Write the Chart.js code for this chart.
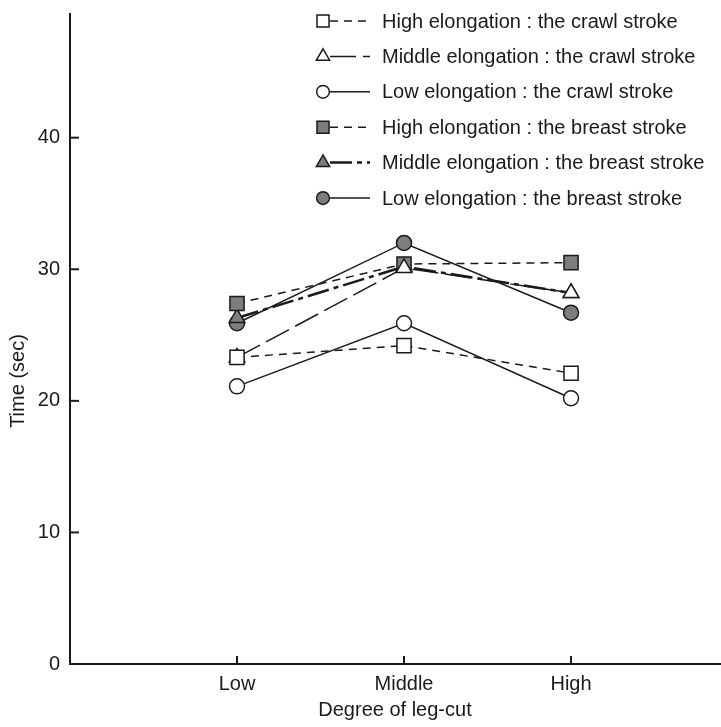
<!DOCTYPE html>
<html>
<head>
<meta charset="utf-8">
<script src="https://cdn.jsdelivr.net/npm/chart.js@4/dist/chart.umd.min.js"></script>
<style>
  body { margin: 0; background: #fff; }
  #wrap { width: 721px; height: 727px; }
</style>
</head>
<body>
<div id="wrap"><canvas id="legChart"></canvas></div>
<script>
const categories = ["Low", "Middle", "High"];
const yTicks = [0, 10, 20, 30, 40];

// time (sec) for each degree of leg-cut
const highCrawl = [23.3, 24.2, 22.1];
const middleCrawl = [23.3, 30.1, 28.2];
const lowCrawl = [21.1, 25.9, 20.2];
const highBreast = [27.4, 30.4, 30.5];
const middleBreast = [26.3, 30.2, 28.2];
const lowBreast = [25.9, 32.0, 26.7];

const FONT = "'Liberation Sans', Arial, sans-serif";
const INK = "#1a1a1a";
const GRAY = "#7d7d7d";

function series(label, values, style, filled, radius, dash, width) {
  return {
    label: label,
    data: values.map((v, i) => ({ x: i + 1, y: v })),
    borderColor: INK,
    borderWidth: width || 1.5,
    borderDash: dash,
    pointStyle: style,
    pointRadius: radius,
    pointBackgroundColor: filled ? GRAY : "#fff",
    pointBorderColor: INK,
    pointBorderWidth: 1.5,
    tension: 0,
    fill: false,
    legendDash: dash
  };
}

const datasets = [
  series("High elongation : the crawl stroke", highCrawl, "rect", false, 10, [8, 6]),
  series("Middle elongation : the crawl stroke", middleCrawl, "triangle", false, 9, [26, 7]),
  series("Low elongation : the crawl stroke", lowCrawl, "circle", false, 7.5, []),
  series("High elongation : the breast stroke", highBreast, "rect", true, 10, [8, 6]),
  series("Middle elongation : the breast stroke", middleBreast, "triangle", true, 9, [22, 5, 5, 5], 2.5),
  series("Low elongation : the breast stroke", lowBreast, "circle", true, 7.5, [])
];

// legend, inner tick marks and y title
const extras = {
  id: "extras",
  afterDraw(chart) {
    const ctx = chart.ctx;
    const xs = chart.scales.x, ys = chart.scales.y;
    ctx.save();
    ctx.strokeStyle = INK;
    ctx.lineWidth = 2;
    yTicks.slice(1).forEach(v => {
      const py = ys.getPixelForValue(v);
      ctx.beginPath(); ctx.moveTo(xs.left, py); ctx.lineTo(xs.left + 9, py); ctx.stroke();
    });
    categories.forEach((c, i) => {
      const px = xs.getPixelForValue(i + 1);
      ctx.beginPath(); ctx.moveTo(px, ys.bottom); ctx.lineTo(px, ys.bottom - 8); ctx.stroke();
    });

    ctx.font = "20px " + FONT;
    ctx.fillStyle = INK;
    ctx.save();
    ctx.translate(18, 381);
    ctx.rotate(-Math.PI / 2);
    ctx.textAlign = "center";
    ctx.textBaseline = "middle";
    ctx.fillText("Time (sec)", 0, 0);
    ctx.restore();

    chart.data.datasets.forEach((ds, i) => {
      const y = 21 + i * 35.4;
      ctx.setLineDash(ds.legendDash);
      ctx.lineWidth = ds.borderWidth;
      ctx.strokeStyle = INK;
      ctx.beginPath(); ctx.moveTo(330, y); ctx.lineTo(370, y); ctx.stroke();
      ctx.setLineDash([]);
      ctx.lineWidth = 1.5;
      ctx.fillStyle = ds.pointBackgroundColor;
      Chart.helpers.drawPoint(ctx, { pointStyle: ds.pointStyle, radius: ds.pointRadius * 0.85, borderWidth: 1.5, rotation: 0 }, 323, y);
      ctx.fillStyle = INK;
      ctx.textAlign = "left";
      ctx.textBaseline = "middle";
      ctx.fillText(ds.label, 382, y + 1);
    });
    ctx.restore();
  }
};

new Chart(document.getElementById("legChart"), {
  type: "line",
  data: { datasets: datasets },
  plugins: [extras],
  options: {
    responsive: true,
    maintainAspectRatio: false,
    animation: false,
    layout: { autoPadding: false, padding: { top: 14, right: 1, left: 0, bottom: 0 } },
    plugins: { legend: { display: false }, tooltip: { enabled: false } },
    scales: {
      x: {
        type: "linear",
        min: 0,
        max: 3.892,
        afterFit: s => { s.height = 63; s.paddingLeft = 0; s.paddingRight = 0; },
        afterBuildTicks: s => { s.ticks = categories.map((c, i) => ({ value: i + 1 })); },
        grid: { display: false, drawTicks: false, tickLength: 0 },
        border: { display: true, color: INK, width: 2 },
        ticks: {
          padding: 8,
          color: INK,
          font: { family: FONT, size: 20 },
          callback: v => categories[v - 1] || ""
        },
        title: {
          display: true,
          text: "Degree of leg-cut",
          color: INK,
          font: { family: FONT, size: 20 },
          padding: { top: 0, bottom: 5 }
        }
      },
      y: {
        min: 0,
        max: 49.4,
        afterFit: s => { s.width = 70; s.paddingTop = 0; s.paddingBottom = 0; },
        afterBuildTicks: s => { s.ticks = yTicks.map(v => ({ value: v })); },
        grid: { display: false, drawTicks: false, tickLength: 0 },
        border: { display: true, color: INK, width: 2 },
        ticks: {
          padding: 10,
          color: INK,
          font: { family: FONT, size: 20 }
        }
      }
    }
  }
});
</script>
</body>
</html>
